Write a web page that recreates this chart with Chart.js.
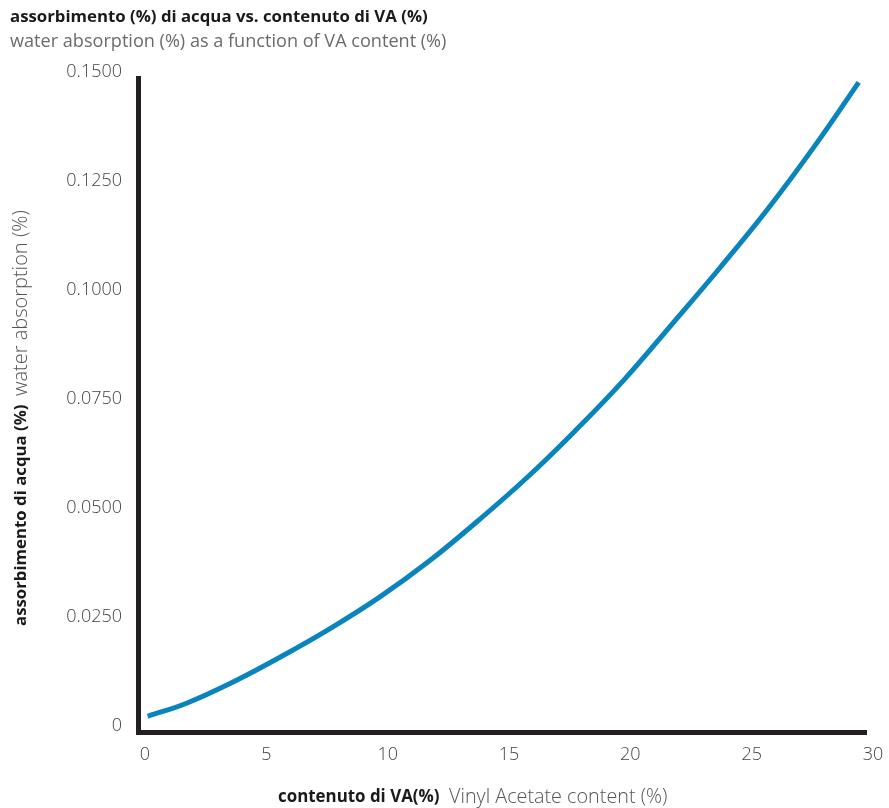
<!DOCTYPE html>
<html lang="it">
  <head>
    <meta charset="UTF-8" />
    <title>Assorbimento di acqua vs contenuto di VA</title>
    <script src="https://cdn.jsdelivr.net/npm/chart.js"></script>
    <style>
      body {
        margin: 0;
        padding: 0;
        background: #ffffff;
      }
      .chart-box {
        width: 889px;
        height: 808px;
        position: relative;
      }
    </style>
  </head>
  <body>
    <div class="chart-box">
      <canvas id="chartVA"></canvas>
    </div>

    <script>
      // dati
      const vaContent = [0.4, 2, 4, 6, 8, 10, 12, 14, 16, 18, 20, 22, 24, 26, 28, 29.7];
      const absorption = [0.0036, 0.0066, 0.0117, 0.0176, 0.024, 0.0311, 0.0392, 0.0484, 0.0582, 0.069, 0.0806, 0.0935, 0.1066, 0.1203, 0.1353, 0.149];
      const xTicks = [0, 5, 10, 15, 20, 25, 30];
      const yTicks = [0, 0.025, 0.05, 0.075, 0.1, 0.125, 0.15];

      const titleMain = "assorbimento (%) di acqua vs. contenuto di VA (%)";
      const titleSub = "water absorption (%) as a function of VA content (%)";
      const yTitleBold = "assorbimento di acqua (%)";
      const yTitleLight = "water absorption (%)";
      const xTitleBold = "contenuto di VA(%)";
      const xTitleLight = "Vinyl Acetate content (%)";

      const FONT = "'Open Sans', 'DejaVu Sans', sans-serif";

      // sceglie la dimensione del font per occupare la larghezza voluta
      function fitFont(ctx, text, weight, width) {
        ctx.font = weight + " 15px " + FONT;
        const size = Math.min(20, (15 * width) / ctx.measureText(text).width);
        ctx.font = weight + " " + size.toFixed(1) + "px " + FONT;
      }

      const textPlugin = {
        id: "textPlugin",
        afterDraw(chart) {
          const ctx = chart.ctx;
          ctx.save();
          ctx.textBaseline = "middle";
          ctx.textAlign = "left";

          fitFont(ctx, titleMain, "bold", 417);
          ctx.fillStyle = "#1a1a1a";
          ctx.fillText(titleMain, 10, 17);
          fitFont(ctx, titleSub, "normal", 437);
          ctx.fillStyle = "#6b6b6b";
          ctx.fillText(titleSub, 10, 42);

          // titolo asse x
          fitFont(ctx, xTitleBold, "bold", 162);
          ctx.fillStyle = "#1a1a1a";
          ctx.fillText(xTitleBold, 278, 797);
          fitFont(ctx, xTitleLight, "300", 219);
          ctx.fillStyle = "#555555";
          ctx.fillText(xTitleLight, 449, 797);

          // titolo asse y (ruotato)
          ctx.translate(21, 0);
          ctx.rotate(-Math.PI / 2);
          fitFont(ctx, yTitleBold, "bold", 222);
          ctx.fillStyle = "#1a1a1a";
          ctx.fillText(yTitleBold, -626, 0);
          fitFont(ctx, yTitleLight, "300", 206);
          ctx.fillStyle = "#555555";
          ctx.fillText(yTitleLight, -396, 0);
          ctx.restore();
        },
      };

      const points = vaContent.map((v, i) => ({ x: v, y: absorption[i] }));

      new Chart(document.getElementById("chartVA"), {
        type: "line",
        data: {
          datasets: [
            {
              label: "assorbimento",
              data: points,
              borderColor: "#0a84bd",
              borderWidth: 5,
              pointRadius: 0,
              fill: false,
              tension: 0.4,
              borderCapStyle: "butt",
            },
          ],
        },
        options: {
          responsive: true,
          maintainAspectRatio: false,
          animation: false,
          layout: {
            padding: { top: 78, right: 23, left: 0, bottom: 0 },
          },
          plugins: {
            legend: { display: false },
            tooltip: { enabled: false },
          },
          scales: {
            x: {
              type: "linear",
              min: 0,
              max: 30,
              afterBuildTicks: (axis) => {
                axis.ticks = xTicks.map((v) => ({ value: v }));
              },
              afterFit: (axis) => {
                axis.height = 76;
              },
              grid: { display: false, drawTicks: false },
              border: { display: true, color: "#231f20", width: 5 },
              ticks: {
                color: "#444444",
                padding: 12,
                labelOffset: 7,
                maxRotation: 0,
                font: { family: FONT, size: 18, weight: "300" },
              },
            },
            y: {
              min: 0,
              max: 0.15,
              afterBuildTicks: (axis) => {
                axis.ticks = yTicks.map((v) => ({ value: v }));
              },
              afterFit: (axis) => {
                axis.width = 138;
              },
              grid: { display: false, drawTicks: false },
              border: { display: true, color: "#231f20", width: 5 },
              ticks: {
                color: "#444444",
                padding: 16,
                labelOffset: -6,
                font: { family: FONT, size: 18, weight: "300" },
                callback: (v) => (v === 0 ? "0" : v.toFixed(4)),
              },
            },
          },
        },
        plugins: [textPlugin],
      });
    </script>
  </body>
</html>
